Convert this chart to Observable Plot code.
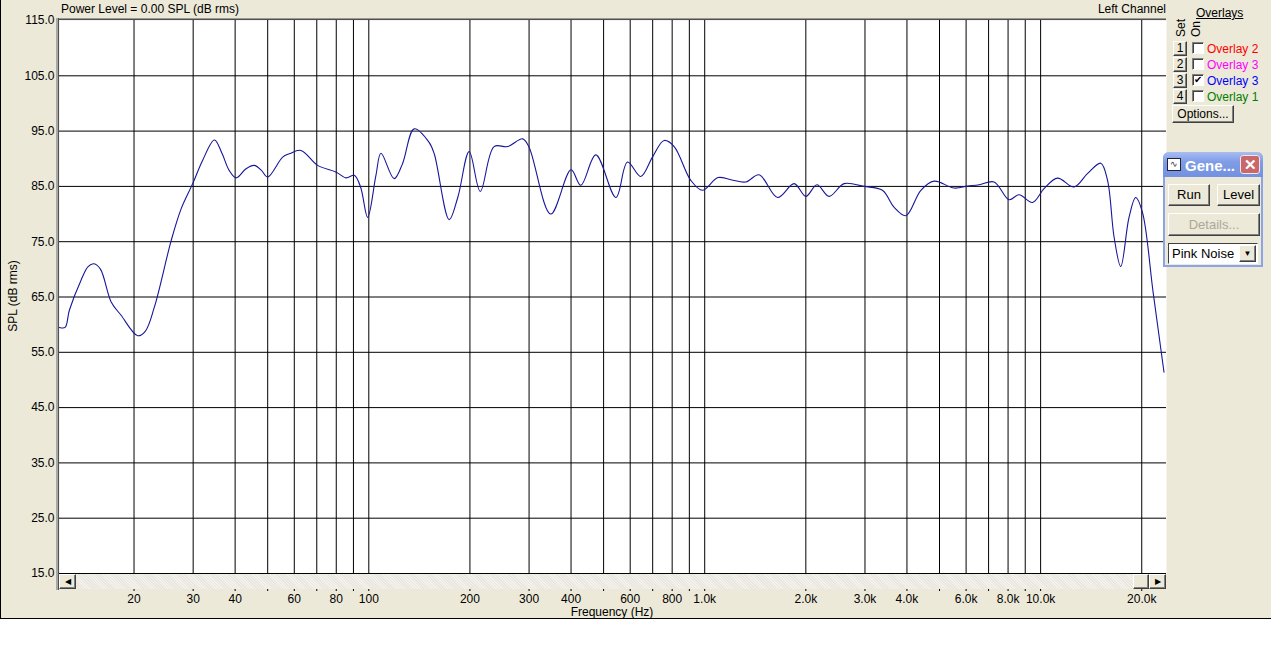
<!DOCTYPE html>
<html><head><meta charset="utf-8">
<script src="https://cdn.jsdelivr.net/npm/d3@7"></script>
<script src="https://cdn.jsdelivr.net/npm/@observablehq/plot@0.6"></script>
<style>
html,body{margin:0;padding:0;background:#fff;overflow:hidden;}
#wrap{position:relative;width:1271px;height:669px;font-family:'Liberation Sans',Arial,sans-serif;font-size:12px;color:#000;}
#panel{position:absolute;left:0;top:0;width:1271px;height:619px;background:#ECE9D8;border-left:1px solid #000;border-bottom:1px solid #000;box-sizing:border-box;}
.abs{position:absolute;white-space:nowrap;line-height:14px;}
.btn{position:absolute;background:#ECE9D8;box-sizing:border-box;border:1px solid;border-color:#fff #404040 #404040 #fff;box-shadow:inset -1px -1px 0 #808080;text-align:center;}
.chk{position:absolute;width:12px;height:12px;background:#fff;box-sizing:border-box;border:1px solid;border-color:#808080 #fff #fff #808080;box-shadow:inset 1px 1px 0 #404040;}
.hatch{background-color:#f3f2ec;background-image:repeating-linear-gradient(45deg,#e8e6de 0 1px,transparent 1px 2px);}
</style></head>
<body><div id="wrap"><div id="panel"></div><div id="chart" style="position:absolute;left:0;top:0"></div></div>
<script>
// ---- data ----
const freqHz = [12.0,12.47,12.84,13.9,14.6,15.2,15.9,17.1,18.3,20.5,21.6,23.0,25.8,27.6,29.9,32.0,34.7,36.6,38.4,40.3,43.1,45.6,47.9,50.0,55.4,58.0,62.8,70.4,79.8,85.5,90.5,94.5,99.2,105,108.7,119,126,136.5,151,156.6,173.5,184,199,214.7,236,259,287,300,348,400,427.7,474,544,589,645,699,757,811,909,985,1095,1197,1325,1452,1648,1846,2000,2158,2346,2600,2980,3380,3665,3970,4400,4820,5525,6055,6560,7270,8055,8630,9460,10240,11230,12580,13780,15100,15820,16550,17320,18330,19190,20100,21630,23300];
const splDb  = [59.5,59.5,62.6,68.0,70.5,71.0,70.0,64.1,61.7,58.0,58.8,63.2,75.2,80.9,85.5,89.7,93.4,90.9,87.9,86.55,88.2,88.8,87.9,86.7,90.3,90.9,91.5,88.8,87.6,86.55,87.0,84.9,79.4,87.0,91.0,86.4,89.1,95.4,93.0,90.9,79.0,83.0,91.3,84.1,92.2,92.2,93.6,92.1,80.0,88.0,85.2,90.7,83.0,89.4,86.8,90.3,93.3,92.2,86.1,84.3,86.6,86.2,85.8,87.1,83.0,85.5,83.2,85.3,83.2,85.5,85.0,84.3,81.2,79.7,84.3,85.95,84.7,85.05,85.3,85.8,82.6,83.5,82.1,84.6,86.5,84.9,87.3,89.2,86.1,75.8,70.5,79.4,83.0,80.3,65.8,51.4];
const gridFreqs = [20,30,40,50,60,70,80,90,100,200,300,400,500,600,700,800,900,1000,2000,3000,4000,5000,6000,7000,8000,9000,10000,20000];
const labelFreqs = [20,30,40,60,80,100,200,300,400,600,800,1000,2000,3000,4000,6000,8000,10000,20000];
const labelTexts = ["20","30","40","60","80","100","200","300","400","600","800","1.0k","2.0k","3.0k","4.0k","6.0k","8.0k","10.0k","20.0k"];
const dbTicks = [15,25,35,45,55,65,75,85,95,105,115];
const dbGrid = [15,25,35,45,55,65,75,85,95,105];
const overlayNames = ["Overlay 2","Overlay 3","Overlay 3","Overlay 1"];
const overlayColors = ["#ff0000","#ff00ff","#0000ff","#008000"];
const overlayOn = [false,false,true,false];

const rows = freqHz.map((f,i)=>({f, db: splDb[i]}));
const labelRows = labelFreqs.map((f,i)=>({f, label: labelTexts[i]}));

const chart = Plot.plot({
  width:1271, height:617,
  marginLeft:59, marginRight:105, marginTop:20, marginBottom:44,
  style:{background:"transparent", fontFamily:"'Liberation Sans',Arial,sans-serif", fontSize:"12px", color:"#000", overflow:"visible"},
  x:{type:"log", domain:[12,23700]},
  y:{domain:[15,115]},
  marks:[
    Plot.frame({fill:"white", stroke:"none"}),
    Plot.ruleX(gridFreqs, {stroke:"#000", strokeWidth:1}),
    Plot.ruleY(dbGrid, {stroke:"#000", strokeWidth:1}),
    Plot.line(rows, {x:"f", y:"db", stroke:"#16169a", strokeWidth:1.1, curve:"catmull-rom"}),
    Plot.axisX(gridFreqs, {tickSize:18, tickFormat:()=>"", label:null}),
    Plot.text(labelRows, {x:"f", text:"label", frameAnchor:"bottom", dy:29, fontSize:12, fill:"#000"}),
    Plot.axisY(dbTicks, {tickSize:3, tickPadding:2, tickFormat:(d)=>d.toFixed(1), label:null})
  ]
});
document.getElementById("chart").appendChild(chart);

// ---- window chrome (HTML) ----
const wrap = document.getElementById("wrap");
function add(html){ wrap.insertAdjacentHTML("beforeend", html); }
// sunken border of plot
add(`<div class="abs" style="left:56px;top:18px;width:1110px;height:2px;background:linear-gradient(#9a9a9a 0 1px,#505050 1px 2px)"></div>`);
add(`<div class="abs" style="left:56px;top:18px;width:3px;height:572px;background:linear-gradient(to right,#a8a8a8 0 2px,#505050 2px 3px)"></div>`);
// scrollbar
add(`<div class="abs hatch" style="left:59px;top:574px;width:1107px;height:15px"></div>`);
add(`<div class="btn" style="left:59px;top:574px;width:17px;height:15px;font-size:8px;line-height:13px">&#9664;</div>`);
add(`<div class="btn" style="left:1133px;top:574px;width:16px;height:15px"></div>`);
add(`<div class="btn" style="left:1149px;top:574px;width:17px;height:15px;font-size:8px;line-height:13px">&#9654;</div>`);
// titles
add(`<div class="abs" style="left:61px;top:2px">Power Level = 0.00 SPL (dB rms)</div>`);
add(`<div class="abs" style="right:105px;top:2px">Left Channel</div>`);
add(`<div class="abs" style="left:612px;top:605px;transform:translateX(-50%)">Frequency (Hz)</div>`);
add(`<div class="abs" style="left:13px;top:296px;transform:translate(-50%,-50%) rotate(-90deg)">SPL (dB rms)</div>`);
// overlays panel
add(`<div class="abs" style="left:1196px;top:6px;text-decoration:underline">Overlays</div>`);
add(`<div class="abs" style="left:1181px;top:28px;transform:translate(-50%,-50%) rotate(-90deg)">Set</div>`);
add(`<div class="abs" style="left:1196px;top:29px;transform:translate(-50%,-50%) rotate(-90deg)">On</div>`);
overlayNames.forEach((name,i)=>{
  const y = 41 + 16*i;
  add(`<div class="btn" style="left:1173px;top:${y}px;width:14px;height:15px;line-height:13px">${i+1}</div>`);
  add(`<div class="chk" style="left:1192px;top:${y+1}px;font-size:10px;line-height:10px;text-align:center">${overlayOn[i]?"&#10004;":""}</div>`);
  add(`<div class="abs" style="left:1207px;top:${y+1}px;color:${overlayColors[i]}">${name}</div>`);
});
add(`<div class="btn" style="left:1172px;top:105px;width:62px;height:18px;line-height:16px">Options...</div>`);
// generator window
add(`<div class="abs" style="left:1163px;top:152px;width:100px;height:115px;background:#ECE9D8;border:2px solid #8aa4e6;border-top:none;box-sizing:border-box;border-radius:6px 6px 0 0"></div>`);
add(`<div class="abs" style="left:1163px;top:152px;width:100px;height:25px;background:linear-gradient(#a9bdf2,#7f9ce6 40%,#7391e0);border-radius:6px 6px 0 0"></div>`);
add(`<div class="abs" style="left:1167px;top:158px;width:14px;height:13px;background:#fff;border:1px solid #223;box-sizing:border-box;font-size:9px;line-height:10px;color:#334;text-align:center">&#8767;</div>`);
add(`<div class="abs" style="left:1185px;top:157px;color:#fff;font-weight:bold;font-size:15px;line-height:17px">Gene...</div>`);
add(`<div class="abs" style="left:1240px;top:155px;width:20px;height:19px;background:#c9686a;border:1px solid #f2e6e6;border-radius:3px;box-sizing:border-box;color:#fff;font-size:15px;font-weight:bold;line-height:17px;text-align:center">&#10005;</div>`);
add(`<div class="btn" style="left:1168px;top:184px;width:42px;height:22px;line-height:20px;font-size:13px">Run</div>`);
add(`<div class="btn" style="left:1217px;top:184px;width:43px;height:22px;line-height:20px;font-size:13px">Level</div>`);
add(`<div class="btn" style="left:1168px;top:213px;width:92px;height:23px;line-height:21px;color:#aca899;font-size:13px">Details...</div>`);
add(`<div class="abs" style="left:1168px;top:243px;width:90px;height:21px;background:#fff;border:1px solid;border-color:#404040 #fff #fff #404040;box-sizing:border-box;padding-left:3px;line-height:19px;font-size:13px">Pink Noise</div>`);
add(`<div class="btn" style="left:1239px;top:245px;width:17px;height:17px;font-size:8px;line-height:15px">&#9660;</div>`);
</script></body></html>
